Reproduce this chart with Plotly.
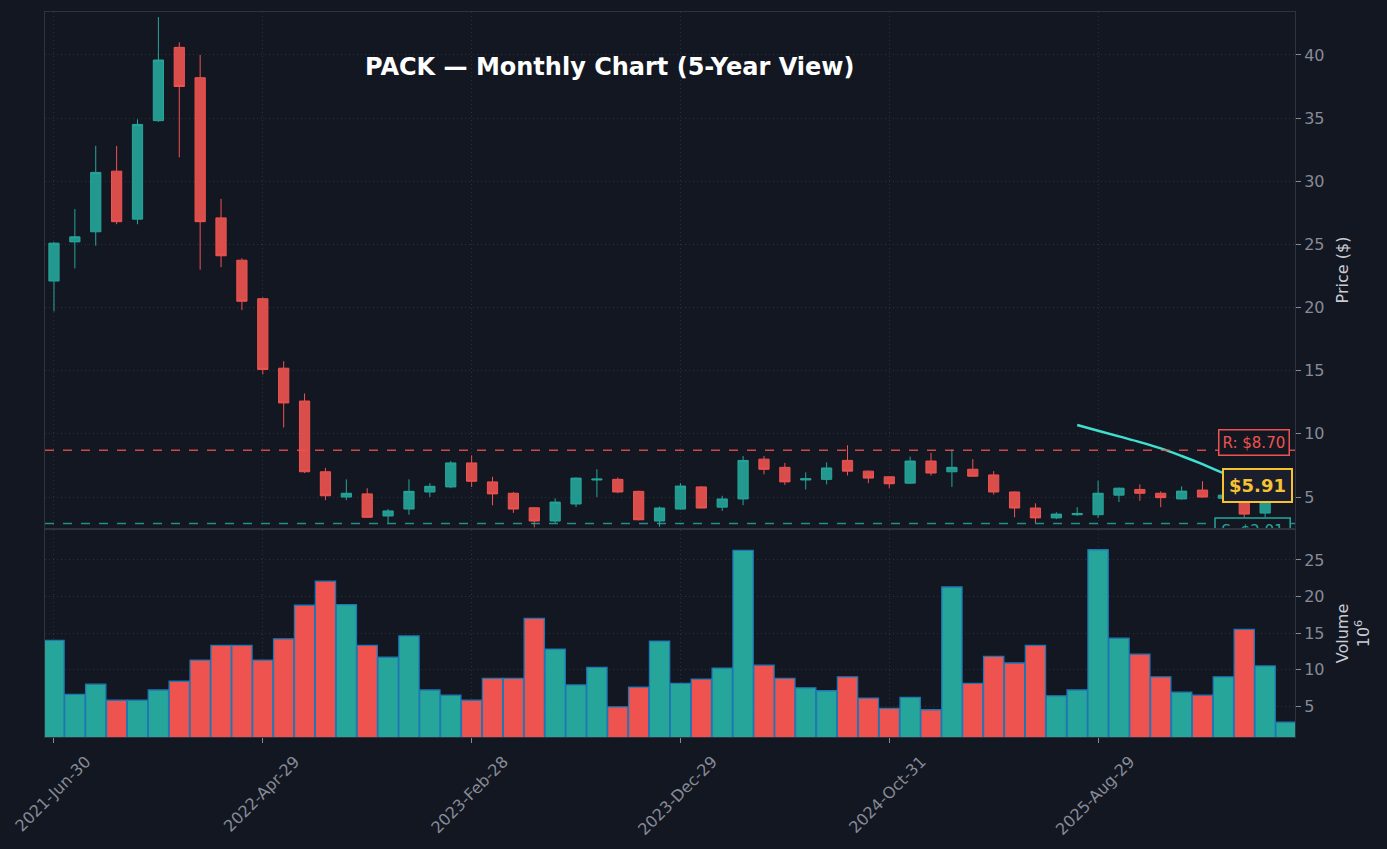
import pandas as pd
import plotly.graph_objects as go
from plotly.subplots import make_subplots

# monthly candles, PACK, 60 months from Jun 2021
dates = pd.date_range(start="2021-06-30", periods=60, freq=pd.offsets.BMonthEnd())
labels = [d.strftime("%Y-%b-%d") for d in dates]

opens = [22.1, 25.2, 26.0, 30.8, 27.0, 34.8, 40.6, 38.2, 27.1, 23.75,
         20.7, 15.2, 12.6, 7.0, 5.0, 5.25, 3.5, 4.05, 5.4, 5.8,
         7.7, 6.2, 5.3, 4.15, 3.1, 4.45, 6.35, 6.4, 5.45, 3.1,
         4.05, 5.8, 4.2, 4.85, 8.0, 7.35, 6.35, 6.4, 7.9, 7.05,
         6.6, 6.1, 7.85, 7.0, 7.2, 6.75, 5.4, 4.13, 3.35, 3.6,
         3.6, 5.15, 5.6, 5.3, 4.85, 5.55, 4.9, 5.15, 3.73, 5.4]
highs = [25.2, 27.8, 32.8, 32.8, 34.9, 43.0, 41.0, 40.0, 28.6, 23.9,
         20.8, 15.75, 13.2, 7.3, 6.4, 5.7, 4.05, 6.4, 6.1, 7.85,
         8.3, 6.6, 5.4, 4.2, 4.9, 6.55, 7.2, 6.55, 5.5, 4.25,
         6.1, 5.85, 5.1, 8.25, 8.25, 7.7, 6.95, 7.75, 9.1, 7.1,
         6.65, 8.2, 8.5, 8.75, 8.0, 7.05, 5.45, 4.5, 3.8, 4.2,
         6.3, 5.75, 6.0, 5.45, 5.85, 6.25, 5.3, 5.3, 5.6, 6.2]
lows = [19.7, 23.1, 24.9, 26.6, 26.6, 34.7, 31.9, 23.0, 23.2, 19.8,
        14.7, 10.5, 6.9, 4.75, 4.75, 3.35, 2.95, 3.6, 5.0, 5.7,
        5.8, 4.35, 3.75, 2.6, 2.95, 4.2, 5.0, 5.3, 3.15, 2.65,
        4.0, 4.1, 3.9, 4.35, 6.8, 5.95, 5.6, 6.0, 6.7, 6.1,
        5.7, 6.05, 6.7, 5.8, 6.6, 5.2, 3.4, 2.95, 3.25, 3.5,
        3.35, 4.6, 4.7, 4.2, 4.8, 4.95, 4.85, 3.4, 3.4, 5.2]
closes = [25.1, 25.6, 30.7, 26.8, 34.5, 39.6, 37.5, 26.8, 24.1, 20.5,
          15.1, 12.45, 7.0, 5.1, 5.3, 3.4, 3.9, 5.45, 5.85, 7.7,
          6.25, 5.25, 4.05, 3.1, 4.6, 6.5, 6.42, 5.4, 3.2, 4.13,
          5.87, 4.13, 4.85, 7.9, 7.2, 6.2, 6.45, 7.3, 7.05, 6.5,
          6.05, 7.85, 6.9, 7.35, 6.65, 5.4, 4.13, 3.35, 3.65, 3.7,
          5.3, 5.7, 5.3, 4.95, 5.47, 5.0, 5.15, 3.65, 5.4, 5.91]
# volume in millions
volumes = [14.0, 6.6, 8.0, 5.8, 5.8, 7.2, 8.4, 11.3, 13.3, 13.3,
           11.3, 14.2, 18.8, 22.1, 18.9, 13.3, 11.7, 14.6, 7.2, 6.5,
           5.8, 8.8, 8.8, 17.0, 12.8, 7.9, 10.3, 4.9, 7.6, 13.9,
           8.1, 8.7, 10.2, 26.3, 10.6, 8.8, 7.5, 7.1, 9.0, 6.1,
           4.7, 6.2, 4.5, 21.3, 8.1, 11.8, 10.9, 13.3, 6.4, 7.2,
           26.4, 14.3, 12.1, 9.0, 6.9, 6.5, 9.0, 15.5, 10.5, 2.8]

# trend line over the last months
trend_start = 49
trend_vals = [10.7, 10.25, 9.8, 9.35, 8.85, 8.25, 7.6, 6.9, 6.5, 6.2, 5.91]

resistance = 8.70
support = 2.91
last_price = 5.91

tick_idx = [0, 10, 20, 30, 40, 50]

UP = "#26a69a"
DOWN = "#ef5350"
BG = "#131722"
GRID = "#2c303c"
TICK = "#878b96"
FONT = "DejaVu Sans"

bar_colors = [UP if c >= o else DOWN for o, c in zip(opens, closes)]

fig = make_subplots(rows=2, cols=1, shared_xaxes=True)

fig.add_trace(go.Candlestick(
    x=labels, open=opens, high=highs, low=lows, close=closes,
    increasing=dict(line=dict(color=UP, width=1), fillcolor="rgba(38,166,154,0.9)"),
    decreasing=dict(line=dict(color=DOWN, width=1), fillcolor="rgba(239,83,80,0.9)"),
    whiskerwidth=0, showlegend=False, hoverinfo="x+y"
), row=1, col=1)

fig.add_trace(go.Scatter(
    x=labels[trend_start:trend_start + len(trend_vals)], y=trend_vals,
    mode="lines", line=dict(color="#40e0d0", width=2.5, shape="spline"),
    showlegend=False
), row=1, col=1)

fig.add_trace(go.Bar(
    x=labels, y=volumes,
    marker=dict(color=bar_colors, line=dict(color="#1f77b4", width=1.3)),
    showlegend=False
), row=2, col=1)

# support / resistance
fig.add_hline(y=resistance, line=dict(color=DOWN, width=1.5, dash="dash"), opacity=0.85, row=1, col=1)
fig.add_hline(y=support, line=dict(color=UP, width=1.5, dash="dash"), opacity=0.85, row=1, col=1)

fig.add_annotation(
    text=f"R: ${resistance:.2f}", xref="x domain", yref="y", x=0.996, y=resistance,
    xanchor="right", yanchor="middle", yshift=8, showarrow=False,
    font=dict(family=FONT, size=15, color=DOWN),
    bgcolor=BG, bordercolor=DOWN, borderwidth=1.5, borderpad=3
)

# support label sits half below the price panel, keep it clipped like the original
fig.add_shape(
    type="rect", xref="x", yref="y", x0=55.6, x1=59.2,
    y0=support - 1.45, y1=support + 0.43,
    line=dict(color=UP, width=1.5), fillcolor=BG, layer="above",
    label=dict(text=f"S: ${support:.2f}", font=dict(family=FONT, size=15, color=UP),
               textposition="middle center")
)

fig.add_annotation(
    text=f"<b>${last_price:.2f}</b>", xref="x domain", yref="y", x=0.998, y=last_price,
    xanchor="right", yanchor="middle", showarrow=False,
    font=dict(family=FONT, size=18, color="#f6c232"),
    bgcolor="#1b1e2c", bordercolor="#f6c232", borderwidth=2, borderpad=5
)

fig.add_annotation(
    text="<b>PACK — Monthly Chart (5-Year View)</b>", xref="paper", yref="paper",
    x=0.4516, y=0.924, xanchor="center", yanchor="middle", showarrow=False,
    font=dict(family=FONT, size=24, color="white")
)

axis_common = dict(
    showline=True, mirror=True, linecolor="#2f3340", linewidth=1,
    gridcolor=GRID, griddash="1px,3px", gridwidth=1, zeroline=False,
    automargin=False,
)

fig.update_xaxes(
    type="category", range=[-0.43, 59.43],
    tickvals=[labels[i] for i in tick_idx], ticktext=[labels[i] for i in tick_idx],
    rangeslider=dict(visible=False), **axis_common
)
fig.update_xaxes(showticklabels=False, ticks="", row=1, col=1)
fig.update_xaxes(
    ticks="outside", ticklen=5, tickcolor=TICK, tickangle=-45, ticklabelshift=32,
    ticklabelstandoff=3,
    tickfont=dict(family=FONT, size=16, color=TICK), row=2, col=1
)

fig.update_yaxes(
    side="right", ticks="outside", ticklen=5, tickcolor=TICK,
    tickfont=dict(family=FONT, size=16, color=TICK), **axis_common
)
fig.update_yaxes(
    range=[2.55, 43.4], dtick=5, domain=[0.2883, 1.0],
    title=dict(text="Price ($)", font=dict(family=FONT, size=16, color="#c9ccd4"), standoff=13),
    row=1, col=1
)
fig.update_yaxes(
    range=[0.77, 29.1], dtick=5, domain=[0.0, 0.2855],
    title=dict(text="Volume<br>10<sup>6</sup>", font=dict(family=FONT, size=16, color="#c9ccd4"), standoff=13),
    row=2, col=1
)

fig.update_layout(
    width=1387, height=849,
    paper_bgcolor=BG, plot_bgcolor=BG,
    margin=dict(l=45, r=92, t=12, b=112),
    bargap=0.03,
    font=dict(family=FONT, color=TICK),
    showlegend=False,
)

# page margin off so the 1387x849 figure fills the window exactly
fig.write_html(
    "out.html",
    config={"displayModeBar": False},
    post_script="document.body.style.margin='0';document.body.style.background='#131722';"
)
